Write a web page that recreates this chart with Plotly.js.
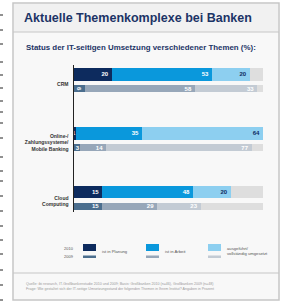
<!DOCTYPE html>
<html><head><meta charset="utf-8">
<script src="https://cdn.plot.ly/plotly-3.0.1.min.js"></script>
<style>html,body{margin:0;padding:0;background:#fff;}#chart{width:286px;height:304px;}</style>
</head><body><div id="chart"></div>
<script>
// ---- data ----
var categories = ["CRM", "Online-/<br>Zahlungssysteme/<br>Mobile Banking", "Cloud<br>Computing"];
var statusNames = ["ist in Planung", "ist in Arbeit", "ausgeführt/<br>vollständig umgesetzt"];
var years = ["2010", "2009"];
var planung2010 = [20, 1, 15];
var arbeit2010  = [53, 35, 48];
var fertig2010  = [20, 64, 20];
var planung2009 = [6, 3, 15];
var arbeit2009  = [58, 14, 29];
var fertig2009  = [33, 77, 23];
var colors2010 = ["#0d2b5e", "#0a98dc", "#8dcff0"];
var colors2009 = ["#4b6e8e", "#97a7b9", "#c3cbd4"];
var restColor = "#dedede";
var textColors2010 = ["#ffffff", "#ffffff", "#0d2b5e"];
var textColors2009 = ["#ffffff", "#ffffff", "#ffffff"];
var title = "Aktuelle Themenkomplexe bei Banken";
var subtitle = "Status der IT-seitigen Umsetzung verschiedener Themen (%):";
var footer = "Quelle: ibi research, IT-Großbankenstudie 2010 und 2009; Basis: Großbanken 2010 (n=46), Großbanken 2009 (n=48)<br>Frage: Wie gestaltet sich der IT-seitige Umsetzungsstand der folgenden Themen in Ihrem Institut? Angaben in Prozent";

// ---- geometry (pixels) ----
var W = 286, H = 304;
var L = 74, R = 263, T = 65, B = 212;
function px(x){ return (x - L) / (R - L); }
function py(y){ return (B - y) / (B - T); }
var off2010 = -0.162, off2009 = 0.085, w2010 = 0.215, w2009 = 0.12;

var idx = categories.map(function(_, i){ return i; });
var y2010 = idx.map(function(i){ return i + off2010; });
var y2009 = idx.map(function(i){ return i + off2009; });

function seg(vals, y, w, color, tcolor, name){
  return {type:'bar', orientation:'h', x: vals, y: y, width: w,
    marker:{color: color, line:{width:0}}, name: name, showlegend:false,
    text: vals.map(String), texttemplate:'<b>%{text}</b>', textposition:'inside', insidetextanchor:'end',
    textfont:{size:6, color:tcolor, family:'Liberation Sans'}, hoverinfo:'skip', cliponaxis:false};
}
function rest(a,b,c){ return a.map(function(v,i){ return 100 - v - b[i] - c[i]; }); }

var data = [
  seg(planung2010, y2010, w2010, colors2010[0], textColors2010[0], statusNames[0]),
  seg(arbeit2010,  y2010, w2010, colors2010[1], textColors2010[1], statusNames[1]),
  seg(fertig2010,  y2010, w2010, colors2010[2], textColors2010[2], statusNames[2]),
  {type:'bar', orientation:'h', x: rest(planung2010, arbeit2010, fertig2010), y: y2010, width: w2010,
   marker:{color: restColor}, showlegend:false, hoverinfo:'skip'},
  seg(planung2009, y2009, w2009, colors2009[0], textColors2009[0], statusNames[0]),
  seg(arbeit2009,  y2009, w2009, colors2009[1], textColors2009[1], statusNames[1]),
  seg(fertig2009,  y2009, w2009, colors2009[2], textColors2009[2], statusNames[2]),
  {type:'bar', orientation:'h', x: rest(planung2009, arbeit2009, fertig2009), y: y2009, width: w2009,
   marker:{color: restColor}, showlegend:false, hoverinfo:'skip'}
];

var shapes = [
  {type:'rect', xref:'paper', yref:'paper', x0:px(13), x1:px(279), y0:py(3), y1:py(300),
   fillcolor:'#f8f8f8', line:{color:'#c6c6c6', width:1.5}, layer:'below'},
  {type:'rect', xref:'paper', yref:'paper', x0:px(14), x1:px(278), y0:py(4), y1:py(32),
   fillcolor:'#f1f1f1', line:{width:0}, layer:'below'},
  {type:'line', xref:'paper', yref:'paper', x0:px(13), x1:px(279), y0:py(32), y1:py(32),
   line:{color:'#c6c6c6', width:1}},
  {type:'line', xref:'paper', yref:'paper', x0:px(13), x1:px(279), y0:py(273), y1:py(273),
   line:{color:'#c6c6c6', width:1}}
];
// scan artefact dashes on left edge
[15,30,44,62,75,88,101,112,123,138,157,171,181,196,211,226,240,254,270,285,300].forEach(function(y){
  shapes.push({type:'line', xref:'paper', yref:'paper', x0:px(0), x1:px(3), y0:py(y), y1:py(y), line:{color:'#222', width:1}});
});

var annotations = [
  {text:'<b>'+subtitle+'</b>', xref:'paper', yref:'paper', x:px(24), y:py(47), xanchor:'left', yanchor:'middle',
   showarrow:false, font:{size:7.9, color:'#1c3466', family:'Liberation Sans'}},
  {text:footer, xref:'paper', yref:'paper', x:px(24), y:py(286), xanchor:'left', yanchor:'middle', align:'left',
   showarrow:false, font:{size:3.6, color:'#9a9a9a', family:'Liberation Sans'}}
];
// legend
var legX = [83, 146, 208];
annotations.push({text:years[0], xref:'paper', yref:'paper', x:px(76), y:py(248), xanchor:'right', yanchor:'middle', showarrow:false, font:{size:4, color:'#555', family:'Liberation Sans'}});
annotations.push({text:years[1], xref:'paper', yref:'paper', x:px(76), y:py(256.5), xanchor:'right', yanchor:'middle', showarrow:false, font:{size:4, color:'#555', family:'Liberation Sans'}});
legX.forEach(function(x, k){
  shapes.push({type:'rect', xref:'paper', yref:'paper', x0:px(x), x1:px(x+13), y0:py(244), y1:py(251), fillcolor:colors2010[k], line:{width:0}});
  shapes.push({type:'rect', xref:'paper', yref:'paper', x0:px(x), x1:px(x+13), y0:py(255.5), y1:py(258), fillcolor:colors2009[k], line:{width:0}});
  annotations.push({text:statusNames[k], xref:'paper', yref:'paper', x:px(x+17), y:py(251), xanchor:'left', yanchor:'middle', align:'left',
    showarrow:false, font:{size:4.2, color:'#555', family:'Liberation Sans'}});
});

var layout = {
  width:W, height:H, margin:{l:L, r:W-R, t:T, b:H-B, pad:0},
  paper_bgcolor:'#ffffff', plot_bgcolor:'rgba(0,0,0,0)',
  barmode:'stack', bargap:0,
  uniformtext:{mode:'show', minsize:5},
  title:{text:'<b>'+title+'</b>', xref:'container', yref:'container', x:24/W, xanchor:'left', y:1-18/H, yanchor:'middle',
    font:{size:12.5, color:'#1c3466', family:'Liberation Sans'}},
  xaxis:{range:[0,100], visible:false, fixedrange:true},
  yaxis:{range:[2.18, -0.323], tickvals:idx, ticktext:categories.map(function(c){ return '<b>'+c+'</b>'; }),
    showline:true, linecolor:'#222', linewidth:1.5,
    showgrid:false, zeroline:false, ticks:'', ticklabelstandoff:3,
    tickfont:{size:5, color:'#333', family:'Liberation Sans'}, fixedrange:true},
  shapes:shapes, annotations:annotations, showlegend:false
};
Plotly.newPlot('chart', data, layout, {displayModeBar:false, staticPlot:true});
</script></body></html>
